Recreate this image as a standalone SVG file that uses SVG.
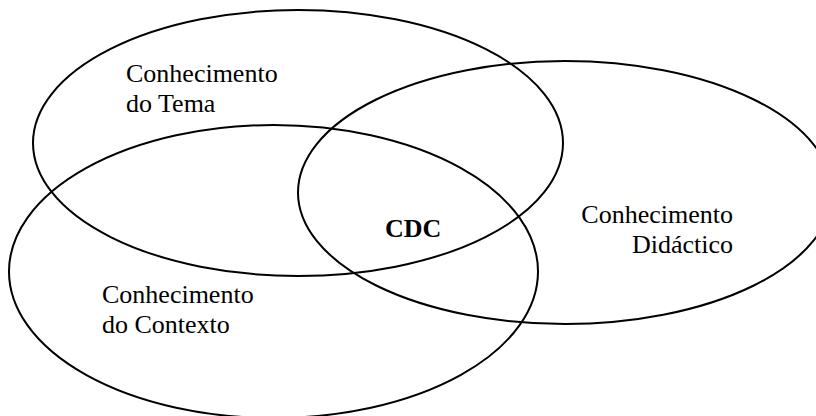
<svg xmlns="http://www.w3.org/2000/svg" width="816" height="416" viewBox="0 0 816 416">
  <style>
    .set { fill: none; stroke: #000; stroke-width: 2; }
    .lbl { font-family: "Liberation Serif", "Times New Roman", serif; font-size: 26px; fill: #000; }
    .core { font-weight: bold; }
  </style>
  <rect width="816" height="416" fill="#fff"/>
  <g id="tema">
    <ellipse class="set" cx="298" cy="143" rx="265" ry="133"/>
    <text class="lbl" x="126" y="82">Conhecimento</text>
    <text class="lbl" x="126" y="112">do Tema</text>
  </g>
  <g id="didactico">
    <ellipse class="set" cx="565" cy="192.5" rx="267" ry="131.5"/>
    <text class="lbl" x="733" y="223" text-anchor="end">Conhecimento</text>
    <text class="lbl" x="733" y="253" text-anchor="end">Didáctico</text>
  </g>
  <g id="contexto">
    <ellipse class="set" cx="273.5" cy="271.5" rx="264.5" ry="146.5"/>
    <text class="lbl" x="102" y="303">Conhecimento</text>
    <text class="lbl" x="102" y="333">do Contexto</text>
  </g>
  <g id="cdc">
    <text class="lbl core" x="385" y="237">CDC</text>
  </g>
</svg>
